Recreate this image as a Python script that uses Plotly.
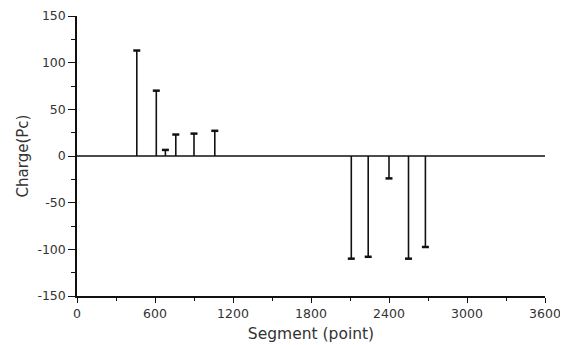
import plotly.graph_objects as go

segments = [460, 610, 680, 760, 900, 1060, 2110, 2240, 2400, 2550, 2680]
charges = [113, 70, 6.5, 23, 24, 27, -110, -108, -24, -110, -97.5]

x_ticks = [0, 600, 1200, 1800, 2400, 3000, 3600]
y_ticks = [-150, -100, -50, 0, 50, 100, 150]
y_tick_labels = ["-150", "-100", "-50", "0", "50", "100", "150"]

stem_x, stem_y = [], []
for s, c in zip(segments, charges):
    stem_x += [s, s, None]
    stem_y += [0, c, None]

fig = go.Figure()
fig.add_trace(go.Scatter(x=stem_x, y=stem_y, mode="lines",
                         line=dict(color="#111111", width=1.6),
                         hoverinfo="skip", showlegend=False))
fig.add_trace(go.Scatter(x=segments, y=charges, mode="markers",
                         marker=dict(symbol="line-ew-open", size=5, color="#111111",
                                     line=dict(color="#111111", width=2.5)),
                         showlegend=False))
fig.add_hline(y=0, line=dict(color="#111111", width=1.5))

font_family = "DejaVu Sans, Verdana, sans-serif"
fig.update_layout(
    width=568, height=345,
    margin=dict(l=69, r=31, t=8, b=57),
    paper_bgcolor="white", plot_bgcolor="white",
    font=dict(family=font_family, size=12, color="#333333"),
    xaxis=dict(range=[0, 3600], tickvals=x_ticks, showgrid=False, zeroline=False,
               automargin=False,
               showline=True, linecolor="#111111", linewidth=1.5,
               ticks="outside", ticklen=5, tickwidth=1.2, tickcolor="#111111",
               minor=dict(dtick=300, ticks="outside", ticklen=3, tickcolor="#111111", tickwidth=1),
               title=dict(text="Segment (point)", font=dict(size=15.5), standoff=8),
               tickfont=dict(size=12.5)),
    yaxis=dict(range=[-150, 150], tickvals=y_ticks, ticktext=y_tick_labels,
               showgrid=False, zeroline=False,
               automargin=False,
               showline=True, linecolor="#111111", linewidth=1.5,
               ticks="outside", ticklen=7, tickwidth=1.2, tickcolor="#111111",
               minor=dict(dtick=25, ticks="outside", ticklen=4, tickcolor="#111111", tickwidth=1),
               title=dict(text="Charge(Pc)", font=dict(size=15), standoff=5),
               tickfont=dict(size=12.5)),
)

fig.write_html("out.html")
